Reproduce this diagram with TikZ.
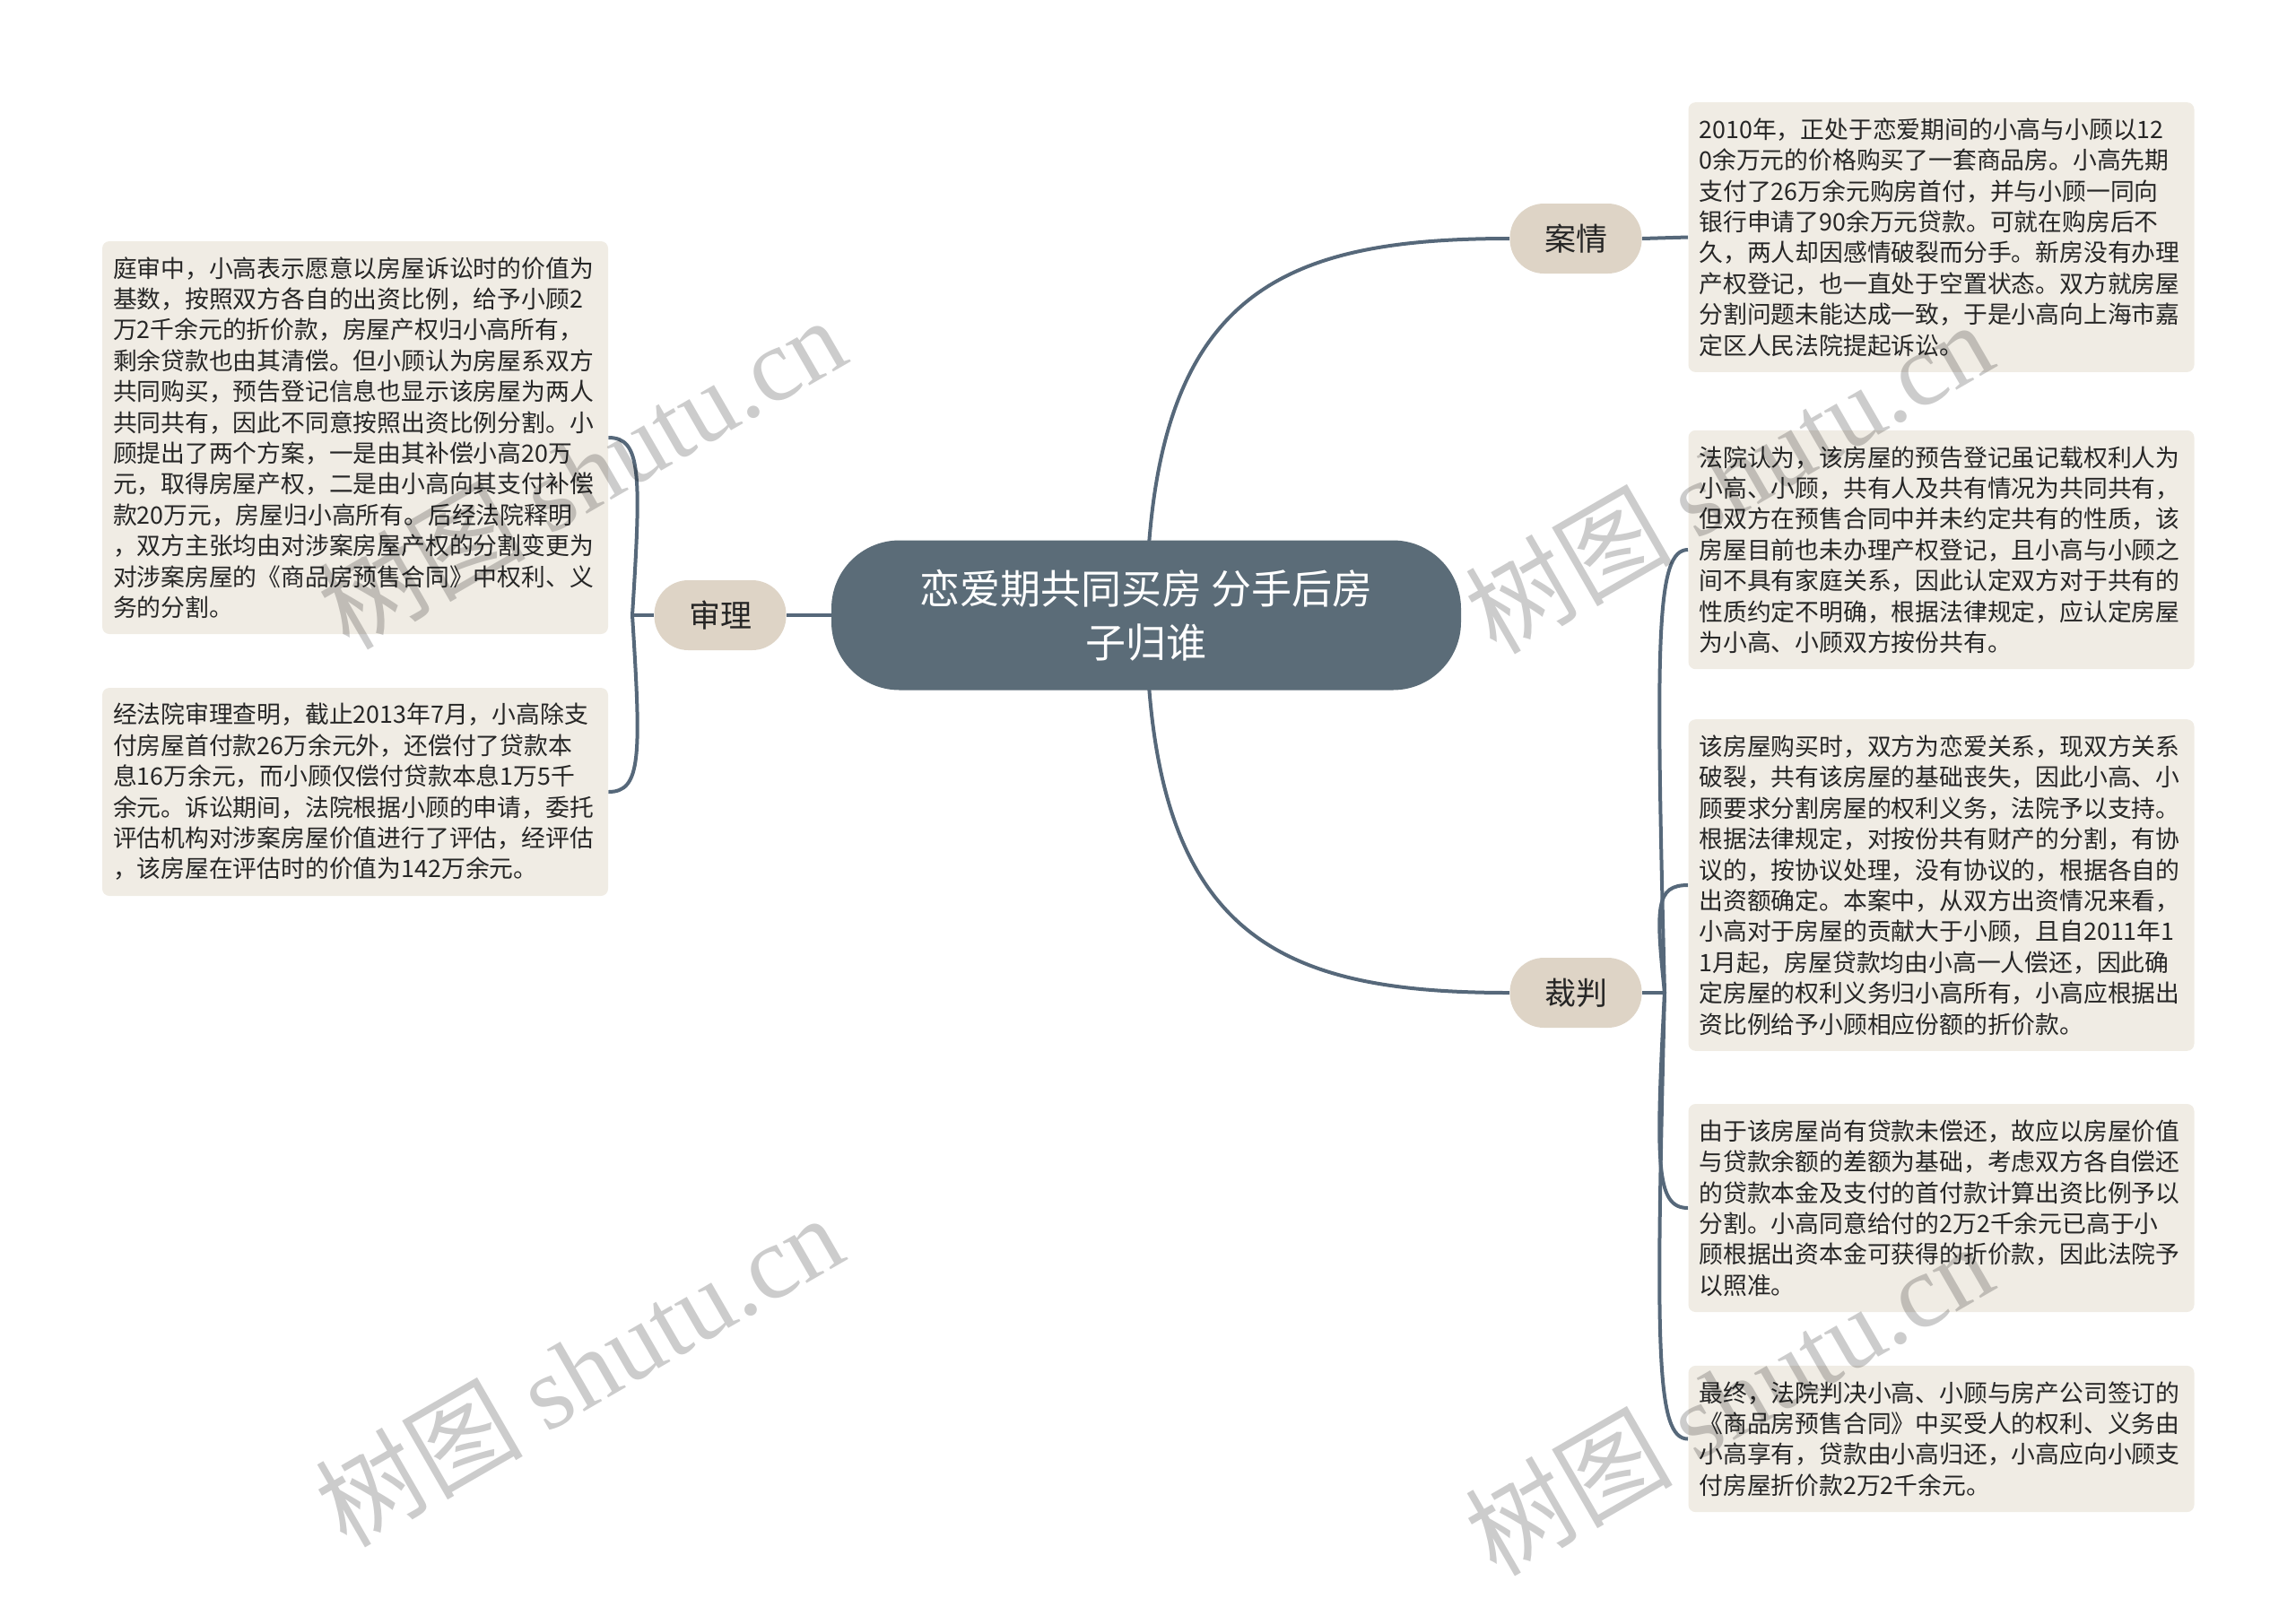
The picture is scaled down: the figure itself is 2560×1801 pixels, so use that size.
\documentclass[tikz,border=0pt]{standalone}
\usepackage{fontspec}
\newfontfamily\cjk{Noto Sans CJK SC}
\newfontfamily\wmserif{Liberation Serif}
\usetikzlibrary{backgrounds}
\definecolor{slate}{HTML}{56687A}
\definecolor{rootfill}{HTML}{5B6C78}
\definecolor{topicfill}{HTML}{DED4C6}
\definecolor{boxfill}{HTML}{F0ECE4}
\definecolor{txt}{HTML}{262626}
\begin{document}
\begin{tikzpicture}[x=0.5pt,y=-0.5pt,
  tbox/.style={rectangle, rounded corners=4pt, fill=boxfill, text width=270pt,
    inner xsep=6pt, inner ysep=0pt, align=left, text=txt,
    font={\cjk\fontsize{13.4pt}{17.2pt}\selectfont}},
  topic/.style={rectangle, rounded corners=19pt, fill=topicfill, minimum width=73.5pt,
    minimum height=39pt, inner sep=0pt, text=txt, font={\cjk\fontsize{17.5pt}{20pt}\selectfont}},
  rootnode/.style={rectangle, rounded corners=38pt, fill=rootfill, minimum width=351pt,
    minimum height=83.5pt, inner sep=0pt, align=center, text=white,
    font={\cjk\fontsize{22.5pt}{30pt}\selectfont}},
  link/.style={draw=slate, line width=2pt},
  wm/.style={text=black, text opacity=0.2, rotate=30, inner sep=0pt,
    font={\cjk\fontsize{58pt}{58pt}\selectfont}}]
\useasboundingbox (0,0) rectangle (2560,1801);

% central and topic nodes
\node[rootnode] (root) at (1278,686) {恋爱期共同买房 分手后房\\子归谁};
\node[topic] (t1) at (1757,266) {案情};
\node[topic] (t2) at (803,686) {审理};
\node[topic] (t3) at (1757,1107) {裁判};

% text boxes (right)
\node[tbox, minimum height=150.4pt] (a1) at (2164.5,264.5) {2010年，正处于恋爱期间的小高与小顾以12\\0余万元的价格购买了一套商品房。小高先期\\支付了26万余元购房首付，并与小顾一同向\\银行申请了90余万元贷款。可就在购房后不\\久，两人却因感情破裂而分手。新房没有办理\\产权登记，也一直处于空置状态。双方就房屋\\分割问题未能达成一致，于是小高向上海市嘉\\定区人民法院提起诉讼。};
\node[tbox, minimum height=133.2pt] (b1) at (2164.5,613) {法院认为，该房屋的预告登记虽记载权利人为\\小高、小顾，共有人及共有情况为共同共有，\\但双方在预售合同中并未约定共有的性质，该\\房屋目前也未办理产权登记，且小高与小顾之\\间不具有家庭关系，因此认定双方对于共有的\\性质约定不明确，根据法律规定，应认定房屋\\为小高、小顾双方按份共有。};
\node[tbox, minimum height=184.8pt] (b2) at (2164.5,987) {该房屋购买时，双方为恋爱关系，现双方关系\\破裂，共有该房屋的基础丧失，因此小高、小\\顾要求分割房屋的权利义务，法院予以支持。\\根据法律规定，对按份共有财产的分割，有协\\议的，按协议处理，没有协议的，根据各自的\\出资额确定。本案中，从双方出资情况来看，\\小高对于房屋的贡献大于小顾，且自2011年1\\1月起，房屋贷款均由小高一人偿还，因此确\\定房屋的权利义务归小高所有，小高应根据出\\资比例给予小顾相应份额的折价款。};
\node[tbox, minimum height=116pt] (b3) at (2164.5,1347) {由于该房屋尚有贷款未偿还，故应以房屋价值\\与贷款余额的差额为基础，考虑双方各自偿还\\的贷款本金及支付的首付款计算出资比例予以\\分割。小高同意给付的2万2千余元已高于小\\顾根据出资本金可获得的折价款，因此法院予\\以照准。};
\node[tbox, minimum height=81.6pt] (b4) at (2164.5,1604.5) {最终，法院判决小高、小顾与房产公司签订的\\《商品房预售合同》中买受人的权利、义务由\\小高享有，贷款由小高归还，小高应向小顾支\\付房屋折价款2万2千余元。};

% text boxes (left)
\node[tbox, minimum height=219pt] (l1) at (396,488) {庭审中，小高表示愿意以房屋诉讼时的价值为\\基数，按照双方各自的出资比例，给予小顾2\\万2千余元的折价款，房屋产权归小高所有，\\剩余贷款也由其清偿。但小顾认为房屋系双方\\共同购买，预告登记信息也显示该房屋为两人\\共同共有，因此不同意按照出资比例分割。小\\顾提出了两个方案，一是由其补偿小高20万\\元，取得房屋产权，二是由小高向其支付补偿\\款20万元，房屋归小高所有。后经法院释明\\，双方主张均由对涉案房屋产权的分割变更为\\对涉案房屋的《商品房预售合同》中权利、义\\务的分割。};
\node[tbox, minimum height=116pt] (l2) at (396,883) {经法院审理查明，截止2013年7月，小高除支\\付房屋首付款26万余元外，还偿付了贷款本\\息16万余元，而小顾仅偿付贷款本息1万5千\\余元。诉讼期间，法院根据小顾的申请，委托\\评估机构对涉案房屋价值进行了评估，经评估\\，该房屋在评估时的价值为142万余元。};

\coordinate (jr) at (1856,1107);
\coordinate (jl) at (705,686);

\begin{pgfonlayer}{background}
\draw[link] (root.center) .. controls (1280,330) and (1420,266) .. (t1.west);
\draw[link] (root.center) .. controls (1280,1042) and (1420,1107) .. (t3.west);
\draw[link] (root.center) -- (t2.east);
\draw[link] (t1.east) -- (a1.west);
\draw[link] (t3.east) -- (jr);
\draw[link] (jr) .. controls (1846,712) and (1846,613) .. (b1.west);
\draw[link] (jr) .. controls (1846,1011) and (1846,987) .. (b2.west);
\draw[link] (jr) .. controls (1846,1299) and (1846,1347) .. (b3.west);
\draw[link] (jr) .. controls (1846,1505) and (1846,1604.5) .. (b4.west);
\draw[link] (t2.west) -- (jl);
\draw[link] (jl) .. controls (715,528) and (715,488) .. (l1.east);
\draw[link] (jl) .. controls (715,844) and (715,883) .. (l2.east);
\end{pgfonlayer}

% watermarks
\node[wm] (w1) at (648,526) {树图 {\wmserif shutu.cn}};
\node[wm] (w2) at (645,1527) {树图 {\wmserif shutu.cn}};
\node[wm] (w3) at (1927,531) {树图 {\wmserif shutu.cn}};
\node[wm] (w4) at (1927,1559) {树图 {\wmserif shutu.cn}};
\end{tikzpicture}
\end{document}
